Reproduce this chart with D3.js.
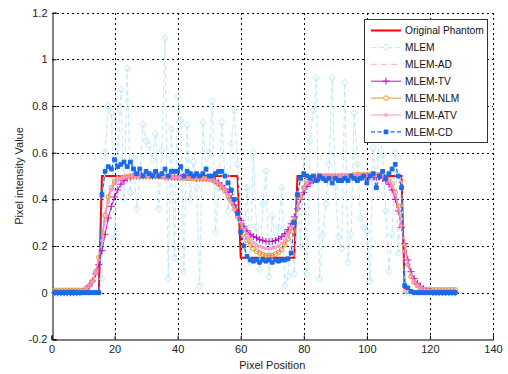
<!DOCTYPE html>
<html>
<head>
<meta charset="utf-8">
<script src="https://cdn.jsdelivr.net/npm/d3@7"></script>
<style>
  html, body { margin: 0; padding: 0; background: #fff; }
  svg { display: block; font-family: "Liberation Sans", Arial, sans-serif; }
</style>
</head>
<body>
<svg id="chart" width="508" height="374"></svg>
<script>
// Pixel positions 1..128 along the profile
const pixels = d3.range(1, 129);

const xTicks = [0, 20, 40, 60, 80, 100, 120, 140];
const yTicks = [-0.2, 0, 0.2, 0.4, 0.6, 0.8, 1, 1.2];

const seriesNames = ["Original Phantom", "MLEM", "MLEM-AD", "MLEM-TV", "MLEM-NLM", "MLEM-ATV", "MLEM-CD"];

const phantom = [
  0,0,0,0,0,0,0,0,0,0,0,0,0,0,0,
  0.5,0.5,0.5,0.5,0.5,0.5,0.5,0.5,0.5,0.5,0.5,0.5,0.5,0.5,0.5,0.5,0.5,0.5,0.5,0.5,0.5,0.5,0.5,0.5,0.5,0.5,0.5,0.5,0.5,0.5,0.5,0.5,0.5,0.5,0.5,0.5,0.5,0.5,0.5,0.5,0.5,0.5,0.5,0.5,
  0.15,0.15,0.15,0.15,0.15,0.15,0.15,0.15,0.15,0.15,0.15,0.15,0.15,0.15,0.15,0.15,0.15,0.15,
  0.5,0.5,0.5,0.5,0.5,0.5,0.5,0.5,0.5,0.5,0.5,0.5,0.5,0.5,0.5,0.5,0.5,0.5,0.5,0.5,0.5,0.5,0.5,0.5,0.5,0.5,0.5,0.5,0.5,0.5,0.5,0.5,0.5,0.5,
  0,0,0,0,0,0,0,0,0,0,0,0,0,0,0,0,0
];

const mlem = [
  0,0,0,0,0,0,0,0,0,0,0,0,0,0,0,
  0.06,0.60,0.80,0.77,0.23,0.55,0.87,0.40,0.96,0.43,
  0.58,0.36,0.50,0.72,0.65,0.63,0.57,0.68,0.36,0.61,
  1.09,0.06,0.70,0.15,0.84,0.74,0.09,0.72,0.40,0.56,
  0.45,0.03,0.73,0.52,0.60,0.82,0.26,0.45,0.73,0.50,
  0.35,0.64,0.78,0.55,0.30,0.22,0.45,0.13,0.60,0.28,
  0.10,0.38,0.52,0.07,0.33,0.20,0.28,0.45,0.03,0.07,
  0.30,0.08,0.42,0.20,0.58,0.08,0.65,0.78,0.92,0.06,
  0.25,0.38,0.55,0.92,0.45,0.24,0.19,0.90,0.13,0.25,
  0.77,0.55,0.32,0.28,0.26,0.05,0.62,0.45,0.70,0.59,
  0.35,0.09,0.25,0.60,0.17,0.48,
  0,0,0,0,0,0,0,0,0,0,0,0,0,0,0,0,0
];

const mlemAD = [
  0.01,0.01,0.01,0.01,0.01,0.01,0.01,0.01,0.01,0.012,
  0.02,0.03,0.05,0.09,0.16,0.26,0.35,0.42,0.46,0.48,
  0.49,0.495,0.5,0.5,0.5,0.5,0.5,0.5,0.5,0.5,
  0.5,0.5,0.5,0.5,0.5,0.498,0.497,0.496,0.495,0.494,
  0.493,0.492,0.491,0.49,0.49,0.49,0.49,0.49,0.49,0.488,
  0.485,0.478,0.468,0.455,0.44,0.42,0.395,0.365,0.33,0.295,
  0.26,0.23,0.21,0.195,0.183,0.175,0.17,0.167,0.166,0.168,
  0.172,0.18,0.192,0.21,0.235,0.27,0.315,0.365,0.415,0.455,
  0.478,0.49,0.495,0.5,0.5,0.5,0.5,0.5,0.5,0.5,
  0.5,0.5,0.5,0.5,0.5,0.502,0.504,0.505,0.505,0.505,
  0.505,0.505,0.505,0.505,0.5,0.495,0.485,0.465,0.43,0.37,
  0.29,0.2,0.12,0.07,0.045,0.03,0.02,0.014,0.012,0.012,
  0.012,0.012,0.012,0.012,0.012,0.012,0.012,0.012
];

const mlemTV = [
  0,0,0,0,0,0,0,0,0.002,0.005,
  0.015,0.03,0.05,0.08,0.12,0.18,0.25,0.32,0.37,0.41,
  0.44,0.465,0.48,0.49,0.495,0.5,0.5,0.5,0.5,0.5,
  0.5,0.5,0.5,0.5,0.5,0.495,0.495,0.495,0.495,0.495,
  0.495,0.495,0.495,0.495,0.495,0.49,0.49,0.49,0.49,0.49,
  0.485,0.48,0.47,0.46,0.445,0.43,0.405,0.375,0.345,0.31,
  0.285,0.265,0.25,0.24,0.235,0.228,0.224,0.22,0.219,0.22,
  0.224,0.23,0.24,0.252,0.27,0.295,0.325,0.36,0.40,0.43,
  0.455,0.47,0.48,0.487,0.49,0.493,0.495,0.495,0.495,0.495,
  0.495,0.495,0.495,0.495,0.495,0.495,0.495,0.495,0.495,0.495,
  0.495,0.495,0.495,0.495,0.49,0.48,0.465,0.44,0.40,0.35,
  0.28,0.21,0.14,0.09,0.06,0.04,0.027,0.017,0.01,0.005,
  0.002,0.002,0.002,0.002,0.002,0.002,0.002,0.002
];

const mlemNLM = [
  0.01,0.01,0.01,0.01,0.01,0.01,0.01,0.01,0.01,0.01,
  0.02,0.03,0.05,0.09,0.15,0.24,0.33,0.41,0.45,0.475,
  0.487,0.493,0.495,0.497,0.498,0.5,0.5,0.5,0.5,0.5,
  0.5,0.5,0.5,0.5,0.498,0.497,0.496,0.495,0.494,0.493,
  0.492,0.491,0.49,0.49,0.49,0.49,0.49,0.49,0.489,0.488,
  0.485,0.475,0.465,0.45,0.435,0.415,0.39,0.36,0.325,0.29,
  0.255,0.225,0.205,0.19,0.178,0.17,0.164,0.16,0.158,0.16,
  0.165,0.173,0.185,0.205,0.23,0.265,0.31,0.36,0.41,0.45,
  0.475,0.487,0.493,0.5,0.5,0.5,0.5,0.5,0.5,0.5,
  0.5,0.5,0.5,0.5,0.5,0.505,0.505,0.505,0.505,0.505,
  0.505,0.505,0.505,0.505,0.5,0.495,0.485,0.465,0.43,0.37,
  0.29,0.2,0.12,0.07,0.045,0.03,0.02,0.012,0.012,0.012,
  0.012,0.012,0.012,0.012,0.012,0.012,0.012,0.012
];

const mlemATV = [
  0.005,0.005,0.005,0.005,0.005,0.005,0.005,0.005,0.006,0.008,
  0.015,0.028,0.048,0.085,0.14,0.22,0.31,0.39,0.44,0.47,
  0.485,0.49,0.495,0.498,0.5,0.5,0.5,0.5,0.5,0.5,
  0.5,0.5,0.5,0.5,0.5,0.498,0.497,0.496,0.495,0.494,
  0.493,0.492,0.491,0.49,0.49,0.49,0.49,0.49,0.49,0.488,
  0.484,0.477,0.468,0.456,0.44,0.42,0.395,0.365,0.33,0.30,
  0.27,0.245,0.228,0.215,0.205,0.198,0.193,0.19,0.189,0.19,
  0.194,0.2,0.21,0.225,0.248,0.28,0.32,0.365,0.41,0.448,
  0.472,0.485,0.492,0.497,0.5,0.5,0.5,0.5,0.5,0.5,
  0.5,0.5,0.5,0.5,0.5,0.502,0.503,0.503,0.503,0.503,
  0.503,0.503,0.503,0.502,0.498,0.49,0.478,0.455,0.42,0.36,
  0.285,0.2,0.125,0.075,0.048,0.032,0.022,0.015,0.01,0.008,
  0.006,0.006,0.006,0.006,0.006,0.006,0.006,0.006
];

const mlemCD = [
  0,0,0,0,0,0,0,0,0,0,0,0,0,0,0,
  0.42,0.52,0.54,0.53,0.57,0.54,0.55,0.56,0.54,0.56,
  0.53,0.51,0.53,0.50,0.52,0.51,0.50,0.52,0.50,0.51,
  0.53,0.50,0.52,0.52,0.52,0.54,0.50,0.52,0.51,0.50,
  0.51,0.50,0.51,0.53,0.50,0.50,0.51,0.52,0.52,0.50,
  0.47,0.44,0.40,0.34,0.26,0.20,0.155,0.14,0.135,0.14,
  0.13,0.14,0.135,0.14,0.13,0.14,0.135,0.14,0.14,0.145,
  0.17,0.30,0.42,0.49,0.51,0.50,0.49,0.50,0.48,0.50,
  0.49,0.48,0.49,0.47,0.49,0.48,0.48,0.49,0.48,0.50,
  0.49,0.48,0.49,0.50,0.47,0.50,0.51,0.45,0.50,0.52,
  0.49,0.51,0.53,0.55,0.50,0.45,
  0.03,0.02,0.005,0,0,0,0,0,0,0,0,0,0,0,0,0,0
];

const svg = d3.select("#chart");
const plot = { left: 51.5, right: 493, top: 12.7, bottom: 339.3 };

const x = d3.scaleLinear().domain([0, 140]).range([plot.left, plot.right]);
const y = d3.scaleLinear().domain([-0.2, 1.2]).range([plot.bottom, plot.top]);

// Dotted grid (also forms the top and right edges of the axes)
const grid = svg.append("g").attr("stroke", "#000").attr("stroke-width", 1)
  .attr("stroke-dasharray", "2.5,2.5").attr("shape-rendering", "crispEdges");
grid.selectAll("line.gx").data(xTicks.slice(1)).join("line")
  .attr("x1", d => Math.round(x(d)) + 0.5).attr("x2", d => Math.round(x(d)) + 0.5)
  .attr("y1", plot.top).attr("y2", plot.bottom);
grid.selectAll("line.gy").data(yTicks.slice(1)).join("line")
  .attr("y1", d => Math.round(y(d)) + 0.5).attr("y2", d => Math.round(y(d)) + 0.5)
  .attr("x1", plot.left).attr("x2", plot.right);

// Axes with inward ticks
const xAxis = d3.axisBottom(x).tickValues(xTicks).tickSize(-4).tickPadding(6).tickFormat(d3.format("d"));
const yAxis = d3.axisLeft(y).tickValues(yTicks).tickSize(-4).tickPadding(5).tickFormat(d => String(+d.toFixed(1)));

const gx = svg.append("g").attr("transform", `translate(0,${Math.round(plot.bottom) + 0.5})`).call(xAxis);
const gy = svg.append("g").attr("transform", `translate(${Math.round(plot.left) + 0.5},0)`).call(yAxis);
[gx, gy].forEach(g => {
  g.select(".domain").attr("stroke", "#000").attr("stroke-width", 1);
  g.selectAll(".tick line").attr("stroke", "#000");
  g.selectAll(".tick text").attr("fill", "#222").attr("font-size", "11px")
    .attr("font-family", "'Liberation Sans', Arial, sans-serif");
});

// Axis titles
svg.append("text").attr("x", (plot.left + plot.right) / 2).attr("y", 369)
  .attr("text-anchor", "middle").attr("font-size", "11px").attr("fill", "#222")
  .text("Pixel Position");
svg.append("text")
  .attr("transform", `translate(23,${(plot.top + plot.bottom) / 2}) rotate(-90)`)
  .attr("text-anchor", "middle").attr("font-size", "11px").attr("fill", "#222")
  .text("Pixel intensity Value");

// Marker shapes
const markers = {
  none: null,
  diamond: "M0,-3.6L3,0L0,3.6L-3,0Z",
  plus: "M-3.5,0H3.5M0,-3.5V3.5",
  circle: "M2.3,0A2.3,2.3 0 1,1 -2.3,0A2.3,2.3 0 1,1 2.3,0Z",
  dot: "M-1.2,-1.2H1.2V1.2H-1.2Z",
  square: "M-1.9,-1.9H1.9V1.9H-1.9Z"
};

const series = [
  { name: seriesNames[0], values: phantom, color: "#ff0000", width: 2, dash: null, marker: "none", fill: "none" },
  { name: seriesNames[1], values: mlem, color: "#bde9fb", width: 1, dash: "5,3", marker: "diamond", fill: "none" },
  { name: seriesNames[2], values: mlemAD, color: "#ffb8da", width: 1.2, dash: "6,4", marker: "none", fill: "none" },
  { name: seriesNames[3], values: mlemTV, color: "#c012c0", width: 1, dash: null, marker: "plus", fill: "none" },
  { name: seriesNames[4], values: mlemNLM, color: "#e8922e", width: 1, dash: null, marker: "circle", fill: "none" },
  { name: seriesNames[5], values: mlemATV, color: "#ff90cc", width: 1, dash: null, marker: "dot", fill: "none" },
  { name: seriesNames[6], values: mlemCD, color: "#1a6ae8", width: 1.3, dash: "4,2.5", marker: "square", fill: "#1a6ae8" }
];

const line = d3.line().x((d, i) => x(pixels[i])).y(d => y(d));
const plotArea = svg.append("g");

series.forEach(s => {
  const g = plotArea.append("g");
  g.append("path").datum(s.values).attr("d", line)
    .attr("fill", "none").attr("stroke", s.color).attr("stroke-width", s.width)
    .attr("stroke-dasharray", s.dash);
  if (markers[s.marker]) {
    g.selectAll("path.m").data(s.values).join("path").attr("class", "m")
      .attr("transform", (d, i) => `translate(${x(pixels[i])},${y(d)})`)
      .attr("d", markers[s.marker])
      .attr("fill", s.fill).attr("stroke", s.color).attr("stroke-width", 1);
  }
});

// Legend
const leg = { x: 364.5, y: 19.5, w: 123, h: 123, row: 16.9, first: 30.5 };
const lg = svg.append("g");
lg.append("rect").attr("x", leg.x).attr("y", leg.y).attr("width", leg.w).attr("height", leg.h)
  .attr("fill", "#fff").attr("stroke", "#333").attr("stroke-width", 1);
series.forEach((s, i) => {
  const cy = leg.first + i * leg.row;
  const row = lg.append("g");
  row.append("line").attr("x1", 371).attr("x2", 401).attr("y1", cy).attr("y2", cy)
    .attr("stroke", s.color).attr("stroke-width", s.width).attr("stroke-dasharray", s.dash);
  if (markers[s.marker]) {
    row.append("path").attr("transform", `translate(386,${cy})`).attr("d", markers[s.marker])
      .attr("fill", s.marker === "diamond" || s.marker === "circle" ? "#fff" : s.fill)
      .attr("stroke", s.color).attr("stroke-width", 1);
  }
  row.append("text").attr("x", 405).attr("y", cy + 3.8).attr("font-size", "10.2px")
    .attr("fill", "#111").text(s.name);
});
</script>
</body>
</html>
